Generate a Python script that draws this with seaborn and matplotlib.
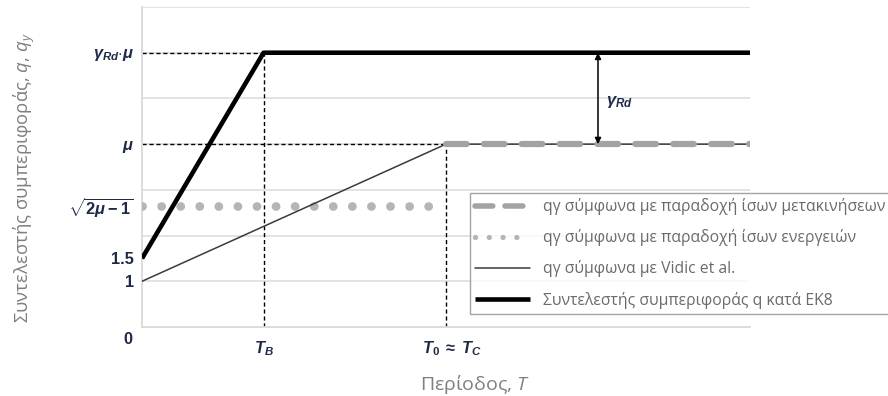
import numpy as np
import pandas as pd
import matplotlib
matplotlib.use("Agg")
import matplotlib.pyplot as plt
import matplotlib.transforms as mtransforms
import seaborn as sns

# ---- data ----
T_ec8 = [0.0, 0.2, 1.0]
q_ec8 = [1.5, 6.0, 6.0]
T_vidic = [0.0, 0.5, 1.0]
q_vidic = [1.0, 4.0, 4.0]
T_disp = [0.5, 1.0]
q_disp = [4.0, 4.0]
T_energy = [0.0, 0.5]
q_energy = [2.65, 2.65]

T_B = 0.2
T_C = 0.5
MU = 4.0
Q_EC8 = 6.0
ARROW_T = 0.75

ytick_vals = [1.0, 1.5, 2.65, 4.0, 6.0]
ytick_labels = ["1", "1.5", r"$\sqrt{2\mu-1}$", r"$\mu$", r"$\gamma_{Rd}{\cdot}\mu$"]
xtick_vals = [0.2, 0.5]
xtick_labels = [r"$T_B$", r"$T_0\;\approx\;T_C$"]
grid_vals = [1, 2, 3, 4, 5, 6, 7]

legend_labels = [
    "qγ σύμφωνα με παραδοχή ίσων μετακινήσεων",
    "qγ σύμφωνα με παραδοχή ίσων ενεργειών",
    "qγ σύμφωνα με Vidic et al.",
    "Συντελεστής συμπεριφοράς q κατά ΕΚ8",
]

sns.set_theme(style="white")
plt.rcParams["font.family"] = ["Open Sans", "DejaVu Sans"]
plt.rcParams["mathtext.fontset"] = "custom"
plt.rcParams["mathtext.rm"] = "Liberation Sans:bold"
plt.rcParams["mathtext.it"] = "Liberation Sans:italic:bold"
plt.rcParams["mathtext.bf"] = "Liberation Sans:bold"
plt.rcParams["mathtext.sf"] = "Open Sans:italic"

fig = plt.figure(figsize=(8.88, 3.96), dpi=100)
ax = fig.add_axes([142 / 888, 1 - 327 / 396, 608 / 888, 320 / 396])

tick_color = "#1f2a48"

# gridlines
for g in grid_vals:
    ax.axhline(g, color="#e0e0e0", lw=1.3, zorder=0)

# reference dashed lines
ref_kw = dict(color="black", lw=1.0, linestyle=(0, (3, 2)), zorder=2)
ax.plot([0, T_B], [Q_EC8, Q_EC8], **ref_kw)
ax.plot([0, T_C], [MU, MU], **ref_kw)
ax.plot([T_B, T_B], [0, Q_EC8], **ref_kw)
ax.plot([T_C, T_C], [0, MU], **ref_kw)

# series
sns.lineplot(x=T_disp, y=q_disp, ax=ax, color="#a3a3a3", lw=4.5,
             linestyle=(0, (3.3, 2.76)), dash_capstyle="round",
             label=legend_labels[0], zorder=4)
sns.lineplot(x=T_energy, y=q_energy, ax=ax, color="#b5b5b5", lw=6.3,
             linestyle=(0, (0.01, 2.17)), dash_capstyle="round",
             label=legend_labels[1], zorder=3)
sns.lineplot(x=T_vidic, y=q_vidic, ax=ax, color="#3a3a3a", lw=1.1,
             label=legend_labels[2], zorder=3)
sns.lineplot(x=T_ec8, y=q_ec8, ax=ax, color="black", lw=3.3,
             label=legend_labels[3], zorder=5, solid_capstyle="butt")

# arrow gamma_Rd
ax.annotate("", xy=(ARROW_T, Q_EC8), xytext=(ARROW_T, MU),
            arrowprops=dict(arrowstyle="<|-|>", color="black", lw=1.1,
                            mutation_scale=9, shrinkA=0, shrinkB=0), zorder=6)
ax.text(ARROW_T + 0.013, 4.93, r"$\gamma_{Rd}$", fontsize=12,
        color=tick_color, va="center", ha="left")

ax.set_xlim(0, 1.0)
ax.set_ylim(0, 7)
ax.set_yticks(ytick_vals)
ax.set_yticklabels(ytick_labels)
ax.set_xticks(xtick_vals)
ax.set_xticklabels(xtick_labels)
ax.tick_params(axis="both", length=0, colors=tick_color, labelsize=11.8)
ax.tick_params(axis="y", pad=6)
ax.tick_params(axis="x", pad=9)
for lab in ax.get_yticklabels() + ax.get_xticklabels():
    lab.set_fontfamily("Liberation Sans")
    lab.set_fontweight("bold")
# nudge the T0 ~ TC label a little to the right, as in the reference
xl = ax.get_xticklabels()[1]
xl.set_transform(xl.get_transform() +
                 mtransforms.ScaledTranslation(6 / 100, 0, fig.dpi_scale_trans))

ax.text(-0.023, -0.04, "0", transform=ax.transAxes, ha="center", va="center",
        fontsize=11.8, fontweight="bold", family="Liberation Sans", color=tick_color)

for s in ["top", "right"]:
    ax.spines[s].set_visible(False)
for s in ["left", "bottom"]:
    ax.spines[s].set_color("#d9d9d9")
    ax.spines[s].set_linewidth(1.3)

ax.set_xlabel(r"Περίοδος, $\mathsf{T}$", color="#7f7f7f", fontsize=14)
ax.xaxis.set_label_coords((475 - 142) / 608, (327 - 373) / 320)
ax.set_ylabel(r"Συντελεστής συμπεριφοράς, $\mathsf{q}$, $\mathsf{q_y}$",
              color="#7f7f7f", fontsize=13.3)
ax.yaxis.set_label_coords((37 - 142) / 608, (327 - 178) / 320)

handles, labels = ax.get_legend_handles_labels()
if ax.get_legend():
    ax.get_legend().remove()
leg = fig.legend(handles, labels, loc="upper left",
                 bbox_to_anchor=(470 / 888, 1 - 193 / 396),
                 bbox_transform=fig.transFigure, frameon=True, fancybox=False,
                 fontsize=11.3, handlelength=3.5, handletextpad=0.85,
                 labelspacing=0.9, borderpad=0.33, borderaxespad=0)
leg.get_frame().set_edgecolor("#8c8c8c")
leg.get_frame().set_linewidth(1.0)
lh = leg.legend_handles
lh[1].set_linewidth(3.8)
lh[1].set_linestyle((0, (0.01, 2.6)))
lh[1].set_dash_capstyle("round")
lh[0].set_linewidth(4.0)
lh[0].set_linestyle((0, (3.2, 2.2)))
lh[0].set_dash_capstyle("round")
for t in leg.get_texts():
    t.set_color("#6b6b6b")

fig.savefig("out.png", dpi=100)
